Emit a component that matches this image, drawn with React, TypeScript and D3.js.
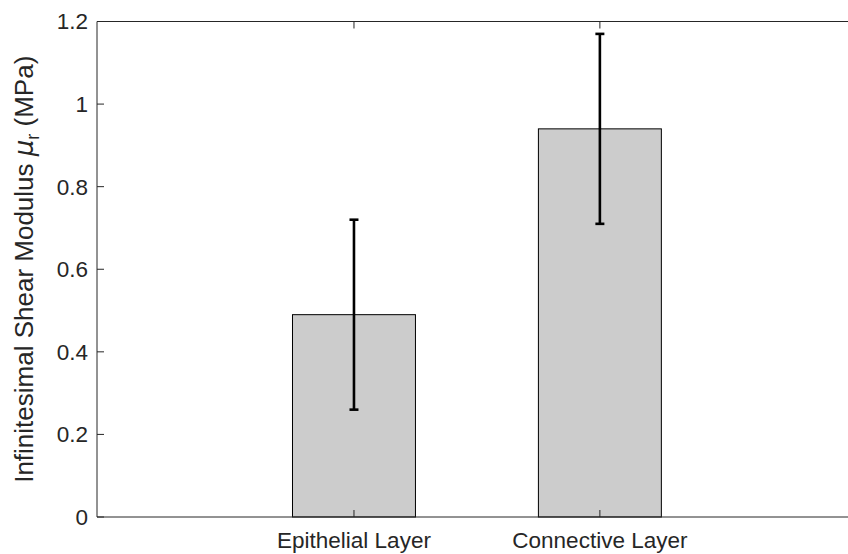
import React from "react";
import * as d3 from "d3";

const categories = ["Epithelial Layer", "Connective Layer"];
const means = [0.49, 0.94];
const lower = [0.26, 0.71];
const upper = [0.72, 1.17];
const yTicks = [0, 0.2, 0.4, 0.6, 0.8, 1, 1.2];

const W = 848;
const H = 554;
const margin = { top: 21.5, right: -15, bottom: 37, left: 97 };
const FONT = "'Liberation Sans', Arial, Helvetica, sans-serif";
const AXIS = "#262626";

const App = () => {
  const innerW = W - margin.left - margin.right;
  const innerH = H - margin.top - margin.bottom;

  // categories sit at 1, 2 on a numeric x axis like matlab's bar()
  const x = d3.scaleLinear().domain([-0.045, 3.07]).range([0, innerW]);
  const y = d3.scaleLinear().domain([0, 1.2]).range([innerH, 0]);
  const barW = x(1.5) - x(1);
  const capW = 9;
  const tickLen = 7;
  const fmt = d3.format("~g");

  return (
    <svg width={W} height={H} style={{ position: "absolute", left: 0, top: 0 }}>
      <rect width={W} height={H} fill="white" />
      <g transform={`translate(${margin.left},${margin.top})`}>
        {/* bars */}
        {means.map((m, i) => (
          <rect
            key={"bar" + i}
            x={x(i + 1) - barW / 2}
            y={y(m)}
            width={barW}
            height={innerH - y(m)}
            fill="#cccccc"
            stroke="#000"
            strokeWidth={1}
          />
        ))}

        {/* error bars */}
        {means.map((m, i) => {
          const cx = x(i + 1);
          return (
            <g key={"err" + i} stroke="#000" strokeWidth={2.6}>
              <line x1={cx} x2={cx} y1={y(lower[i])} y2={y(upper[i])} />
              <line x1={cx - capW / 2} x2={cx + capW / 2} y1={y(lower[i])} y2={y(lower[i])} />
              <line x1={cx - capW / 2} x2={cx + capW / 2} y1={y(upper[i])} y2={y(upper[i])} />
            </g>
          );
        })}

        {/* axes box */}
        <g stroke={AXIS} strokeWidth={1} fill="none">
          <line x1={0} x2={innerW} y1={innerH} y2={innerH} />
          <line x1={0} x2={innerW} y1={0} y2={0} />
          <line x1={0} x2={0} y1={0} y2={innerH} />
          <line x1={innerW} x2={innerW} y1={0} y2={innerH} />
        </g>

        {/* y ticks */}
        {yTicks.map((t) => (
          <g key={"yt" + t} transform={`translate(0,${y(t)})`}>
            <line x1={0} x2={tickLen} stroke={AXIS} />
            <line x1={innerW - tickLen} x2={innerW} stroke={AXIS} />
            <text
              x={-9}
              dy="0.35em"
              textAnchor="end"
              fontFamily={FONT}
              fontSize={22.5}
              fill={AXIS}
            >
              {fmt(t)}
            </text>
          </g>
        ))}

        {/* x ticks */}
        {categories.map((c, i) => (
          <g key={"xt" + c} transform={`translate(${x(i + 1)},0)`}>
            <line y1={innerH} y2={innerH - tickLen} stroke={AXIS} />
            <line y1={0} y2={tickLen} stroke={AXIS} />
            <text
              y={innerH + 31}
              textAnchor="middle"
              fontFamily={FONT}
              fontSize={22.5}
              fill={AXIS}
            >
              {c}
            </text>
          </g>
        ))}

        {/* y label */}
        <text
          transform={`translate(${-64},${innerH / 2}) rotate(-90)`}
          textAnchor="middle"
          fontFamily={FONT}
          fontSize={26}
          fill={AXIS}
        >
          Infinitesimal Shear Modulus{" "}
          <tspan fontStyle="italic" fontFamily="'DejaVu Sans', sans-serif">μ</tspan>
          <tspan fontSize={18} dy={6}>r</tspan>
          <tspan dy={-6}> (MPa)</tspan>
        </text>
      </g>
    </svg>
  );
};

export default App;
